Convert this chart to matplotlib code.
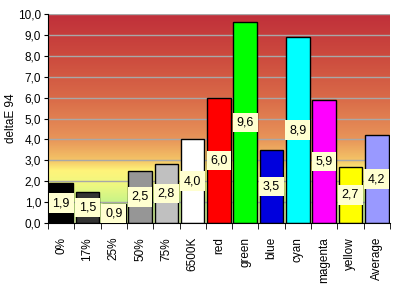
import numpy as np
import matplotlib
matplotlib.use("Agg")
import matplotlib.pyplot as plt
from matplotlib.colors import LinearSegmentedColormap
from matplotlib.ticker import FuncFormatter

plt.rcParams['font.family'] = ['Liberation Sans', 'DejaVu Sans']

# data
categories = ['0%', '17%', '25%', '50%', '75%', '6500K', 'red', 'green',
              'blue', 'cyan', 'magenta', 'yellow', 'Average']
values = [1.9, 1.5, 0.9, 2.5, 2.8, 4.0, 6.0, 9.6, 3.5, 8.9, 5.9, 2.7, 4.2]
bar_colors = ['#000000', '#333333', '#808080', '#969696', '#c0c0c0', '#ffffff',
              '#ff0000', '#00ff00', '#0000dd', '#00ffff', '#ff00ff', '#ffff00',
              '#9999ff']
labels = ['1,9', '1,5', '0,9', '2,5', '2,8', '4,0', '6,0', '9,6', '3,5', '8,9',
          '5,9', '2,7', '4,2']

fig = plt.figure(figsize=(3.97, 2.87), dpi=100)
ax = fig.add_axes([0.121, 0.223, 0.861, 0.728])

# background gradient (bottom -> top)
grad = LinearSegmentedColormap.from_list('bg', [
    (0.00, '#d8f0a0'),
    (0.10, '#c8f488'),
    (0.18, '#eef880'),
    (0.25, '#fff47a'),
    (0.30, '#f4c466'),
    (0.40, '#e8955a'),
    (0.60, '#d96a48'),
    (0.80, '#cc4a3e'),
    (1.00, '#c0303a'),
])
n = len(categories)
g = np.linspace(0, 1, 256).reshape(-1, 1)
ax.imshow(g, aspect='auto', cmap=grad, origin='lower',
          extent=[-0.5, n - 0.5, 0, 10], zorder=0)

ax.grid(axis='y', color='#a8a8a8', linewidth=1, zorder=1)

x = np.arange(n)
ax.bar(x, values, width=0.9, color=bar_colors, edgecolor='black',
       linewidth=1, zorder=2)

for xi, v, lab in zip(x, values, labels):
    ax.text(xi, v / 2, lab, ha='center', va='center', fontsize=9, zorder=3,
            bbox=dict(boxstyle='square,pad=0.3', fc='#ffffd0', ec='none'))

ax.set_xlim(-0.5, n - 0.5)
ax.set_ylim(0, 10)
ax.set_yticks(np.arange(0, 10.1, 1))
ax.yaxis.set_major_formatter(FuncFormatter(lambda v, p: f'{v:.1f}'.replace('.', ',')))
ax.set_ylabel('deltaE 94', fontsize=8.5, labelpad=1)

ax.set_xticks(x)
ax.set_xticklabels(categories, rotation=90, fontsize=8.5)
ax.tick_params(axis='x', length=0, pad=10)
ax.set_xticks(np.arange(-0.5, n, 1), minor=True)
ax.tick_params(axis='x', which='minor', length=4, direction='out')
ax.tick_params(axis='y', labelsize=8.5, length=3, pad=2)

for s in ['top', 'right']:
    ax.spines[s].set_visible(False)
ax.spines['left'].set_color('black')
ax.spines['bottom'].set_color('black')

fig.savefig('out.png', dpi=100)
